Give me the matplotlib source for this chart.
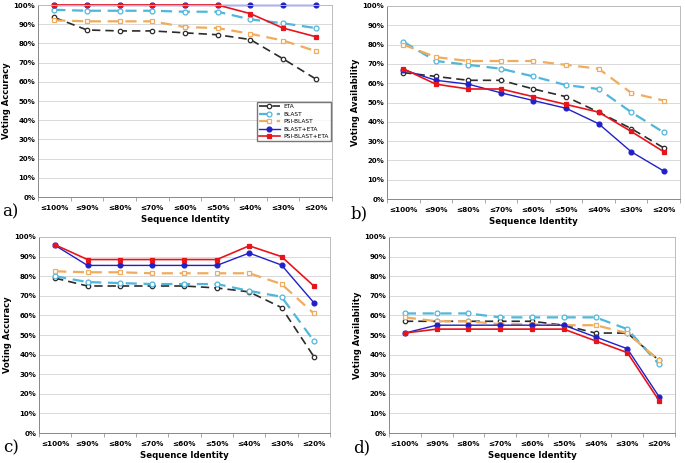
import matplotlib.pyplot as plt
import numpy as np

# categories on the x axis
identity = ['≤100%', '≤90%', '≤80%', '≤70%', '≤60%', '≤50%', '≤40%', '≤30%', '≤20%']
methods = ['ETA', 'BLAST', 'PSI-BLAST', 'BLAST+ETA', 'PSI-BLAST+ETA']

# a) voting accuracy
acc_a_eta = [93.5, 87, 86.5, 86.5, 85.5, 84.5, 82, 72, 61.5]
acc_a_blast = [97.5, 97, 97, 97, 96.5, 96.5, 92.5, 90.5, 88]
acc_a_psi = [92, 91.5, 91.5, 91.5, 88.5, 88, 85, 81.5, 76]
acc_a_blast_eta = [100, 100, 100, 100, 100, 100, 100, 100, 100]
acc_a_psi_eta = [100, 100, 100, 100, 100, 100, 95.5, 88, 83.5]

# b) voting availability
av_b_eta = [65.5, 63.5, 61.5, 61.5, 57, 53, 45, 36.5, 26.5]
av_b_blast = [81.5, 71.5, 69.5, 67.5, 63.5, 59, 57, 45, 34.5]
av_b_psi = [80, 73.5, 71.5, 71.5, 71.5, 69.5, 67.5, 55, 51]
av_b_blast_eta = [67, 61.5, 59.5, 55, 51, 47, 39, 24.5, 14.5]
av_b_psi_eta = [67.5, 59.5, 57, 57, 53, 49, 45, 35, 24.5]

# c) voting accuracy
acc_c_eta = [79, 75, 75, 75, 75, 74, 72, 64, 39]
acc_c_blast = [80, 77, 76.5, 76, 76, 76, 72.5, 69.5, 47]
acc_c_psi = [82.5, 82, 82, 81.5, 81.5, 81.5, 81.5, 76, 61]
acc_c_blast_eta = [95.7, 85.5, 85.5, 85.5, 85.5, 85.5, 91.8, 85.7, 66.5]
acc_c_psi_eta = [96, 88.5, 88.5, 88.5, 88.5, 88.5, 95.5, 90, 75]

# d) voting availability
av_d_eta = [57, 57, 57, 57, 57, 55, 51, 51, 37]
av_d_blast = [61, 61, 61, 59, 59, 59, 59, 53, 35]
av_d_psi = [59, 57, 57, 55.5, 55.5, 55, 55, 51, 37]
av_d_blast_eta = [51, 55, 55, 55, 55, 55, 49, 43, 18.5]
av_d_psi_eta = [51, 53, 53, 53, 53, 53, 47, 41, 16.5]

styles = {
    'ETA': dict(color='#2b2b2b', ls=(0, (5, 3)), marker='o', mfc='white', ms=3.2, lw=1.2),
    'BLAST': dict(color='#4fb6dc', ls=(0, (5, 3)), marker='o', mfc='white', ms=3.5, lw=1.6),
    'PSI-BLAST': dict(color='#f0ac5c', ls=(0, (5, 3)), marker='s', mfc='white', ms=3.5, lw=1.6),
    'BLAST+ETA': dict(color='#2020c8', ls='-', marker='o', mfc='#2020c8', ms=3.5, lw=1.0),
    'PSI-BLAST+ETA': dict(color='#e8141b', ls='-', marker='s', mfc='#e8141b', ms=3.5, lw=1.2),
}

panels = [
    ('a)', 'Voting Accuracy', [acc_a_eta, acc_a_blast, acc_a_psi, acc_a_blast_eta, acc_a_psi_eta],
     [38, 5, 332, 197]),
    ('b)', 'Voting Availability', [av_b_eta, av_b_blast, av_b_psi, av_b_blast_eta, av_b_psi_eta],
     [387, 6, 680, 199]),
    ('c)', 'Voting Accuracy', [acc_c_eta, acc_c_blast, acc_c_psi, acc_c_blast_eta, acc_c_psi_eta],
     [39, 237, 330, 433]),
    ('d)', 'Voting Availability', [av_d_eta, av_d_blast, av_d_psi, av_d_blast_eta, av_d_psi_eta],
     [389, 237, 675, 433]),
]

W, H = 685, 463
fig = plt.figure(figsize=(W / 100, H / 100), dpi=100)
x = np.arange(len(identity))

for label, ylab, series, (l, t, r, b) in panels:
    ax = fig.add_axes([l / W, 1 - b / H, (r - l) / W, (b - t) / H])
    for name, vals in zip(methods, series):
        ax.plot(x, vals, label=name, mew=0.9, clip_on=False, **styles[name])
    ax.set_xlim(-0.5, len(identity) - 0.5)
    ax.set_ylim(0, 100)
    ax.set_yticks(np.arange(0, 101, 10))
    ax.set_yticklabels([f'{v}%' for v in range(0, 101, 10)], fontsize=5, fontweight='bold')
    ax.set_xticks(x)
    ax.set_xticklabels(identity, fontsize=5.2, fontweight='bold')
    ax.set_xticks(np.arange(-0.5, len(identity)), minor=True)
    ax.tick_params(axis='x', which='major', length=0, pad=6)
    ax.tick_params(axis='x', which='minor', length=3, color='#999999')
    ax.tick_params(axis='y', length=0, pad=2)
    ax.grid(axis='y', color='#d9d9d9', lw=0.7)
    ax.set_axisbelow(True)
    for s in ax.spines.values():
        s.set_color('#bbbbbb')
        s.set_linewidth(0.7)
    ax.spines['left'].set_color('#888888')
    ax.spines['bottom'].set_color('#888888')
    ax.set_ylabel(ylab, fontsize=6, fontweight='bold', labelpad=2)
    ax.set_xlabel('Sequence Identity', fontsize=6.2, fontweight='bold', labelpad=3)
    fig.text((l - 36) / W, 1 - (b + 15) / H, label, fontsize=12, family='DejaVu Serif',
             va='center', ha='left')
    if label == 'a)':
        ax.legend(loc='upper right', bbox_to_anchor=(1.0, 0.5), fontsize=4.2, frameon=True,
                  fancybox=False, edgecolor='#555555', handlelength=3.6, borderpad=0.35,
                  labelspacing=0.4, handletextpad=0.6, borderaxespad=0.2)

fig.savefig('out.png', dpi=100)
